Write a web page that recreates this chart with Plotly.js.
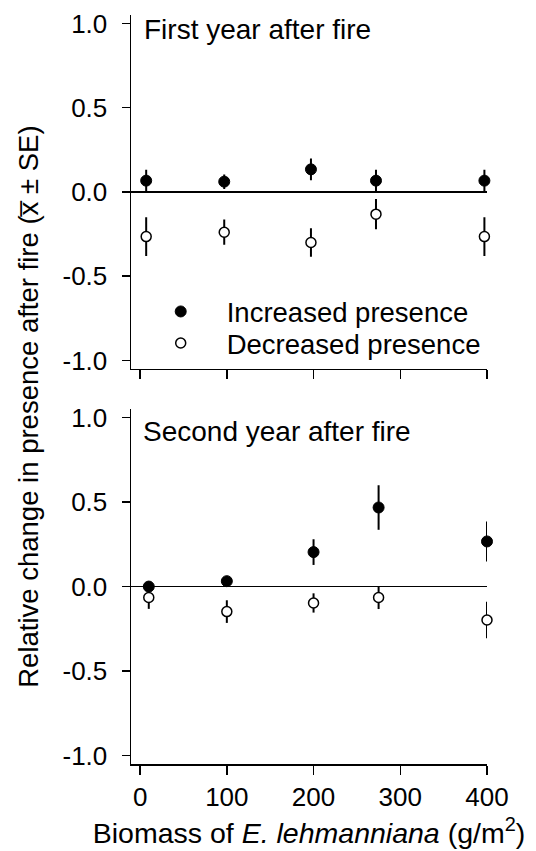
<!DOCTYPE html>
<html>
<head>
<meta charset="utf-8">
<script src="https://cdn.plot.ly/plotly-3.0.1.min.js"></script>
<style>html,body{margin:0;padding:0;background:#fff;}#chart{width:536px;height:851px;}</style>
</head>
<body>
<div id="chart"></div>
<script>
// First year after fire (top panel)
const xTop = [7, 97, 197, 272, 397];
const incTop = [0.067, 0.061, 0.134, 0.067, 0.067];
const incTopSE = [0.065, 0.043, 0.065, 0.065, 0.065];
const decTop = [-0.265, -0.239, -0.300, -0.132, -0.265];
const decTopSE = [0.115, 0.075, 0.085, 0.09, 0.115];

// Second year after fire (bottom panel)
const xBot = [10, 100, 200, 275, 400];
const incBot = [0.0, 0.032, 0.204, 0.468, 0.267];
const incBotSE = [0.02, 0.02, 0.076, 0.132, 0.118];
const decBot = [-0.065, -0.148, -0.097, -0.065, -0.198];
const decBotSE = [0.067, 0.067, 0.057, 0.068, 0.108];

const seriesNames = ['Increased presence', 'Decreased presence'];
const panelLabels = ['First year after fire', 'Second year after fire'];
const xTicks = [0, 100, 200, 300, 400];
const yTicks = [-1.0, -0.5, 0.0, 0.5, 1.0];

const FONT = 'Arial, "Liberation Sans", Helvetica, sans-serif';

function err(arr) {
  return {type: 'data', array: arr, visible: true, thickness: 2, width: 0, color: '#000'};
}
const filled = {size: 11, color: '#000', line: {color: '#000', width: 1}};
const open = {size: 10, color: '#fff', line: {color: '#000', width: 1.5}};

const traces = [
  {x: xTop, y: incTop, error_y: err(incTopSE), mode: 'markers', type: 'scatter', marker: filled,
   name: seriesNames[0], xaxis: 'x2', yaxis: 'y2', cliponaxis: false, showlegend: true, legend: 'legend'},
  {x: xTop, y: decTop, error_y: err(decTopSE), mode: 'markers', type: 'scatter', marker: open,
   name: seriesNames[1], xaxis: 'x2', yaxis: 'y2', cliponaxis: false, showlegend: true, legend: 'legend2'},
  {x: xBot, y: incBot, error_y: err(incBotSE), mode: 'markers', type: 'scatter', marker: filled,
   name: seriesNames[0], xaxis: 'x', yaxis: 'y', cliponaxis: false, showlegend: false},
  {x: xBot, y: decBot, error_y: err(decBotSE), mode: 'markers', type: 'scatter', marker: open,
   name: seriesNames[1], xaxis: 'x', yaxis: 'y', cliponaxis: false, showlegend: false}
];

const plotW = 536 - 131 - 49.3;
const plotH = 851 - 15 - 86.7;

function yAxis(domain, anchor) {
  return {
    domain: domain, anchor: anchor, range: [-1.05, 1.05],
    tickvals: yTicks, ticktext: yTicks.map(v => v.toFixed(1)),
    ticks: 'outside', ticklen: 8, tickwidth: 1.5, tickcolor: '#000',
    showline: true, linecolor: '#000', linewidth: 1.5,
    showgrid: false, zeroline: true, zerolinecolor: '#000', zerolinewidth: 1.5,
    tickfont: {family: FONT, size: 26, color: '#000'},
    ticklabelstandoff: 9, fixedrange: true
  };
}
function xAxis(anchor, labels) {
  return {
    anchor: anchor, domain: [0, 1], range: [-10.5, 400],
    tickvals: xTicks, ticks: 'outside', ticklen: 9, tickwidth: 1.5, tickcolor: '#000',
    showline: true, linecolor: '#000', linewidth: 1.5,
    showgrid: false, zeroline: false, showticklabels: labels,
    tickfont: {family: FONT, size: 26, color: '#000'}, fixedrange: true
  };
}

function legendAt(py) {
  return {
    x: (134.7 - 131) / plotW, y: 1 - (py - 15) / plotH, xanchor: 'left', yanchor: 'middle',
    bgcolor: 'rgba(0,0,0,0)', borderwidth: 0, itemwidth: 82,
    font: {family: FONT, size: 27.5, color: '#000'}
  };
}

const layout = {
  width: 536, height: 851,
  margin: {l: 131, r: 49.3, t: 15, b: 86.7, pad: 0},
  paper_bgcolor: '#fff', plot_bgcolor: '#fff',
  font: {family: FONT, color: '#000'},
  xaxis: Object.assign(xAxis('y', true), {
    title: {text: 'Biomass of <i>E. lehmanniana</i> (g/m<sup>2</sup>)',
            font: {family: FONT, size: 28.5, color: '#000'}, standoff: 12}
  }),
  xaxis2: Object.assign(xAxis('y2', false), {matches: 'x'}),
  yaxis: yAxis([0, 355 / plotH], 'x'),
  yaxis2: yAxis([1 - 354 / plotH, 1], 'x2'),
  showlegend: true,
  legend: legendAt(311.7),
  legend2: legendAt(343.3),
  annotations: [
    {text: panelLabels[0], xref: 'paper', yref: 'paper',
     x: (142 - 131) / plotW, y: 1 - (30 - 15) / plotH, xanchor: 'left', yanchor: 'middle',
     showarrow: false, font: {family: FONT, size: 28, color: '#000'}},
    {text: panelLabels[1], xref: 'paper', yref: 'paper',
     x: (141 - 131) / plotW, y: 1 - (431.7 - 15) / plotH, xanchor: 'left', yanchor: 'middle',
     showarrow: false, font: {family: FONT, size: 28, color: '#000'}},
    {text: 'Relative change in presence after fire (x\u0305 \u00b1 SE)', xref: 'paper', yref: 'paper',
     x: (29 - 131) / plotW, y: 1 - (407 - 15) / plotH, xanchor: 'center', yanchor: 'middle',
     textangle: -90, showarrow: false, font: {family: FONT, size: 27.5, color: '#000'}}
  ]
};

Plotly.newPlot('chart', traces, layout, {displayModeBar: false, staticPlot: true});
</script>
</body>
</html>
